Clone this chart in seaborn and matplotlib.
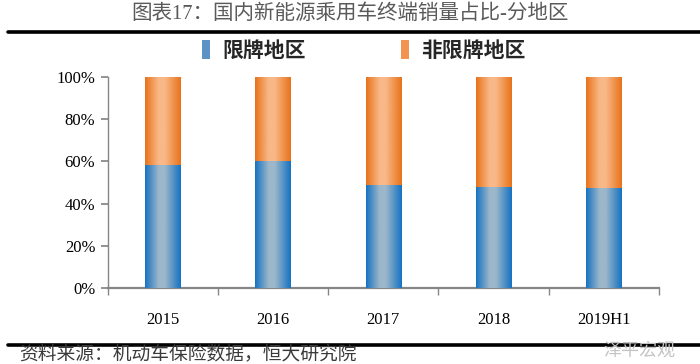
import matplotlib
matplotlib.use("Agg")
import numpy as np
import pandas as pd
import matplotlib.pyplot as plt
import seaborn as sns
from matplotlib.colors import LinearSegmentedColormap
from matplotlib.lines import Line2D
from matplotlib.patches import Patch

# data (percent of sales)
years = ["2015", "2016", "2017", "2018", "2019H1"]
limited = [58.3, 60.2, 48.8, 47.9, 47.4]      # 限牌地区
unlimited = [41.7, 39.8, 51.2, 52.1, 52.6]    # 非限牌地区
series_names = ["限牌地区", "非限牌地区"]
y_ticks = [0, 20, 40, 60, 80, 100]

title = "图表17：国内新能源乘用车终端销量占比-分地区"
source = "资料来源：机动车保险数据，恒大研究院"
watermark = "泽平宏观"

sns.set_theme(style="white")
plt.rcParams["font.family"] = ["Liberation Serif", "Noto Sans CJK SC", "DejaVu Sans"]

BLUE_EDGE, BLUE_MID = "#1572c2", "#9cb7ca"
ORANGE_EDGE, ORANGE_MID = "#e8721a", "#f9b887"


def gradient_fill(ax, patches, edge, mid, z):
    """Paint a horizontal edge-light-edge gradient inside each bar."""
    cmap = LinearSegmentedColormap.from_list(
        "g", [(0, edge), (0.38, mid), (0.55, mid), (1, edge)])
    grad = np.linspace(0, 1, 256).reshape(1, -1)
    for p in patches:
        x0, y0 = p.get_x(), p.get_y()
        w, h = p.get_width(), p.get_height()
        im = ax.imshow(grad, cmap=cmap, extent=(x0, x0 + w, y0, y0 + h),
                       aspect="auto", zorder=z, interpolation="bilinear")
        im.set_clip_path(p)


df = pd.DataFrame({"year": years, "limited": limited, "unlimited": unlimited})
df["total"] = df["limited"] + df["unlimited"]

fig = plt.figure(figsize=(7, 3.64), dpi=100)
ax = fig.add_axes([0.154, 0.209, 0.787, 0.579])

sns.barplot(data=df, x="year", y="total", color=ORANGE_EDGE, width=0.32,
            saturation=1, ax=ax)
n = len(ax.patches)
sns.barplot(data=df, x="year", y="limited", color=BLUE_EDGE, width=0.32,
            saturation=1, ax=ax)
orange_bars = ax.patches[:n]
blue_bars = ax.patches[n:]
gradient_fill(ax, orange_bars, ORANGE_EDGE, ORANGE_MID, 2)
gradient_fill(ax, blue_bars, BLUE_EDGE, BLUE_MID, 3)

ax.set_xlim(-0.5, len(years) - 0.5)
ax.set_ylim(0, 100)
ax.set_xlabel("")
ax.set_ylabel("")
ax.set_yticks(y_ticks)
ax.set_yticklabels([f"{v}%" for v in y_ticks])
ax.set_xticks(range(len(years)))
ax.set_xticklabels(years)
ax.set_xticks(np.arange(-0.5, len(years), 1), minor=True)

for s in ["top", "right"]:
    ax.spines[s].set_visible(False)
for s in ["left", "bottom"]:
    ax.spines[s].set_color("#868686")
    ax.spines[s].set_linewidth(1.0)
ax.spines["bottom"].set_linewidth(1.6)

ax.tick_params(axis="y", left=True, length=5, direction="out", color="#868686",
               labelsize=12, labelcolor="black", pad=4)
ax.tick_params(axis="x", which="major", bottom=False, labelsize=12,
               labelcolor="black", pad=11)
ax.tick_params(axis="x", which="minor", bottom=True, length=5,
               direction="out", color="#868686")

# legend
handles = [Patch(facecolor="#5b93c4", edgecolor="none"),
           Patch(facecolor="#f29450", edgecolor="none")]
fig.legend(handles, series_names, loc="center", bbox_to_anchor=(0.52, 0.862),
           ncol=2, frameon=False, handlelength=0.35, handleheight=1.0,
           handletextpad=0.6, columnspacing=4.6,
           prop={"family": ["Noto Sans CJK SC"], "weight": "bold", "size": 15})

# title, rules, source
fig.text(0.5, 0.962, title, ha="center", va="center", fontsize=14.8,
         color="#5a5a5a")
fig.add_artist(Line2D([8 / 700, 1.0], [0.912, 0.912], color="black", lw=2.6,
                      transform=fig.transFigure))
fig.add_artist(Line2D([8 / 700, 1.0], [0.052, 0.052], color="black", lw=2.6,
                      transform=fig.transFigure))
fig.text(0.028, 0.026, source, ha="left", va="center", fontsize=13.5,
         style="italic", color="#3a3a3a")
fig.text(0.965, 0.035, watermark, ha="right", va="center", fontsize=13,
         color="#c4c4c4")

fig.savefig("out.png", dpi=100)
